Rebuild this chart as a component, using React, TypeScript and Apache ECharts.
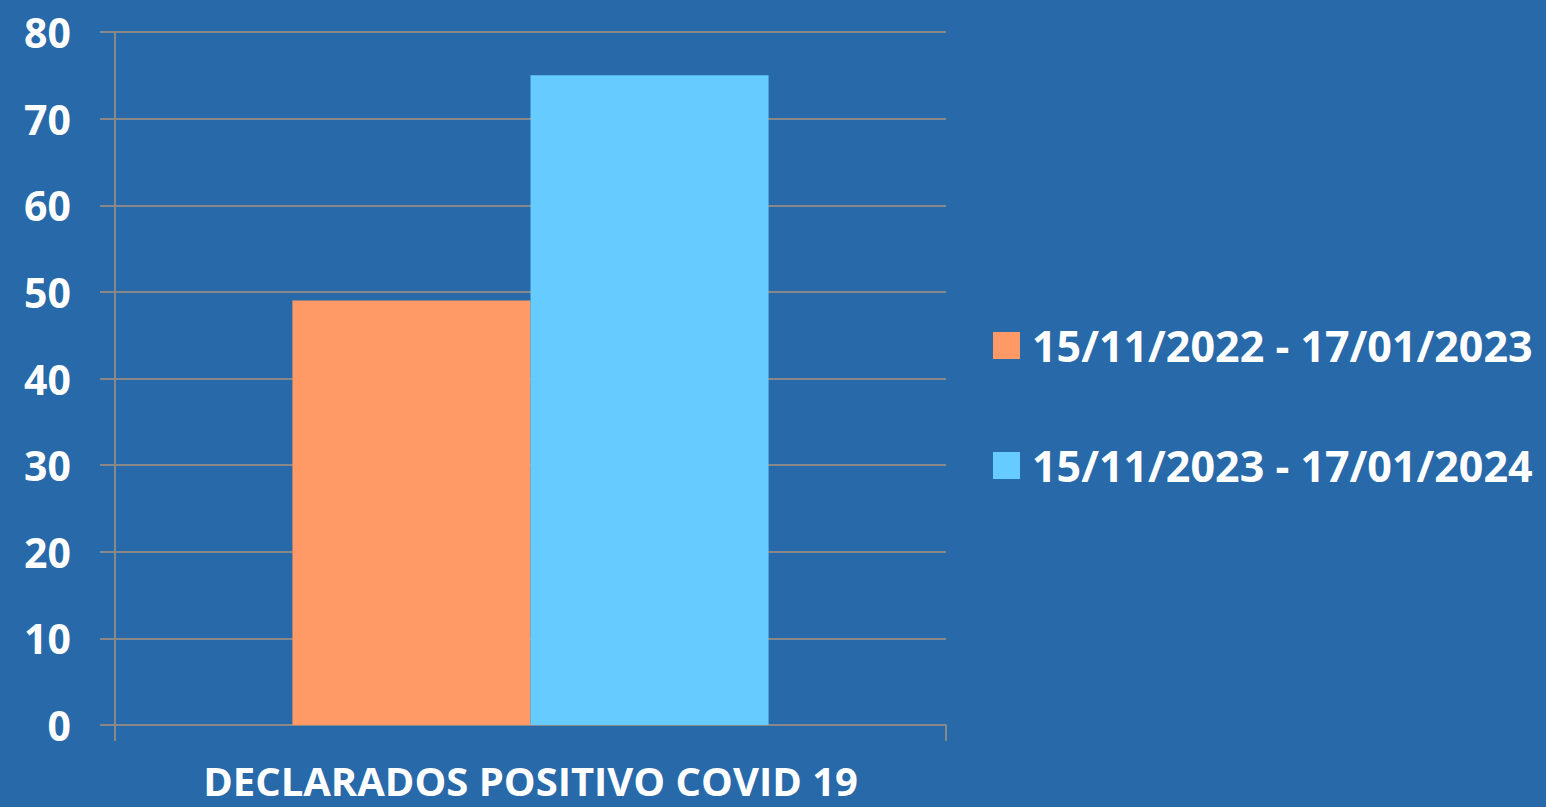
import React, { useEffect, useRef } from "react";
import * as echarts from "echarts";

const categories = ["DECLARADOS POSITIVO COVID 19"];
const seriesNames = ["15/11/2022 - 17/01/2023", "15/11/2023 - 17/01/2024"];
const values2022 = [49];
const values2023 = [75];

const FONT = "'Open Sans', 'Noto Sans', sans-serif";

export default function App() {
  const ref = useRef<HTMLDivElement>(null);
  useEffect(() => {
    if (!ref.current) return;
    const chart = echarts.init(ref.current, undefined, { renderer: "svg" });
    chart.setOption({
      animation: false,
      backgroundColor: "#2769A9",
      grid: { left: 115, right: 600, top: 32, bottom: 82, containLabel: false },
      legend: {
        orient: "vertical",
        left: 993,
        top: 324,
        padding: 0,
        itemWidth: 27,
        itemHeight: 27,
        itemGap: 77,
        icon: "rect",
        data: seriesNames,
        textStyle: { color: "#FFFFFF", fontFamily: FONT, fontWeight: "bold", fontSize: 43, padding: [0, 0, 0, 7] },
      },
      xAxis: {
        type: "category",
        data: categories,
        axisLine: { show: true, lineStyle: { color: "#888888", width: 2 } },
        axisTick: { show: true, length: 16, interval: 0, lineStyle: { color: "#888888", width: 2 } },
        axisLabel: { color: "#FFFFFF", fontFamily: FONT, fontWeight: "bold", fontSize: 40, margin: 35, lineHeight: 40 },
        splitLine: { show: false },
      },
      yAxis: {
        type: "value",
        min: 0,
        max: 80,
        interval: 10,
        axisLine: { show: true, lineStyle: { color: "#888888", width: 2 } },
        axisTick: { show: true, length: 15, inside: false, lineStyle: { color: "#888888", width: 2 } },
        axisLabel: { color: "#FFFFFF", fontFamily: FONT, fontWeight: "bold", fontSize: 41, margin: 44 },
        splitLine: { show: true, lineStyle: { color: "#888888", width: 2 } },
      },
      series: [
        {
          name: seriesNames[0],
          type: "bar",
          data: values2022,
          itemStyle: { color: "#FF9966" },
          barGap: "0%",
          barCategoryGap: "42.7%",
        },
        {
          name: seriesNames[1],
          type: "bar",
          data: values2023,
          itemStyle: { color: "#66CCFF" },
          barGap: "0%",
          barCategoryGap: "42.7%",
        },
      ],
    });
    return () => chart.dispose();
  }, []);
  return <div ref={ref} style={{ width: 1546, height: 807, position: "absolute", left: 0, top: 0 }} />;
}
